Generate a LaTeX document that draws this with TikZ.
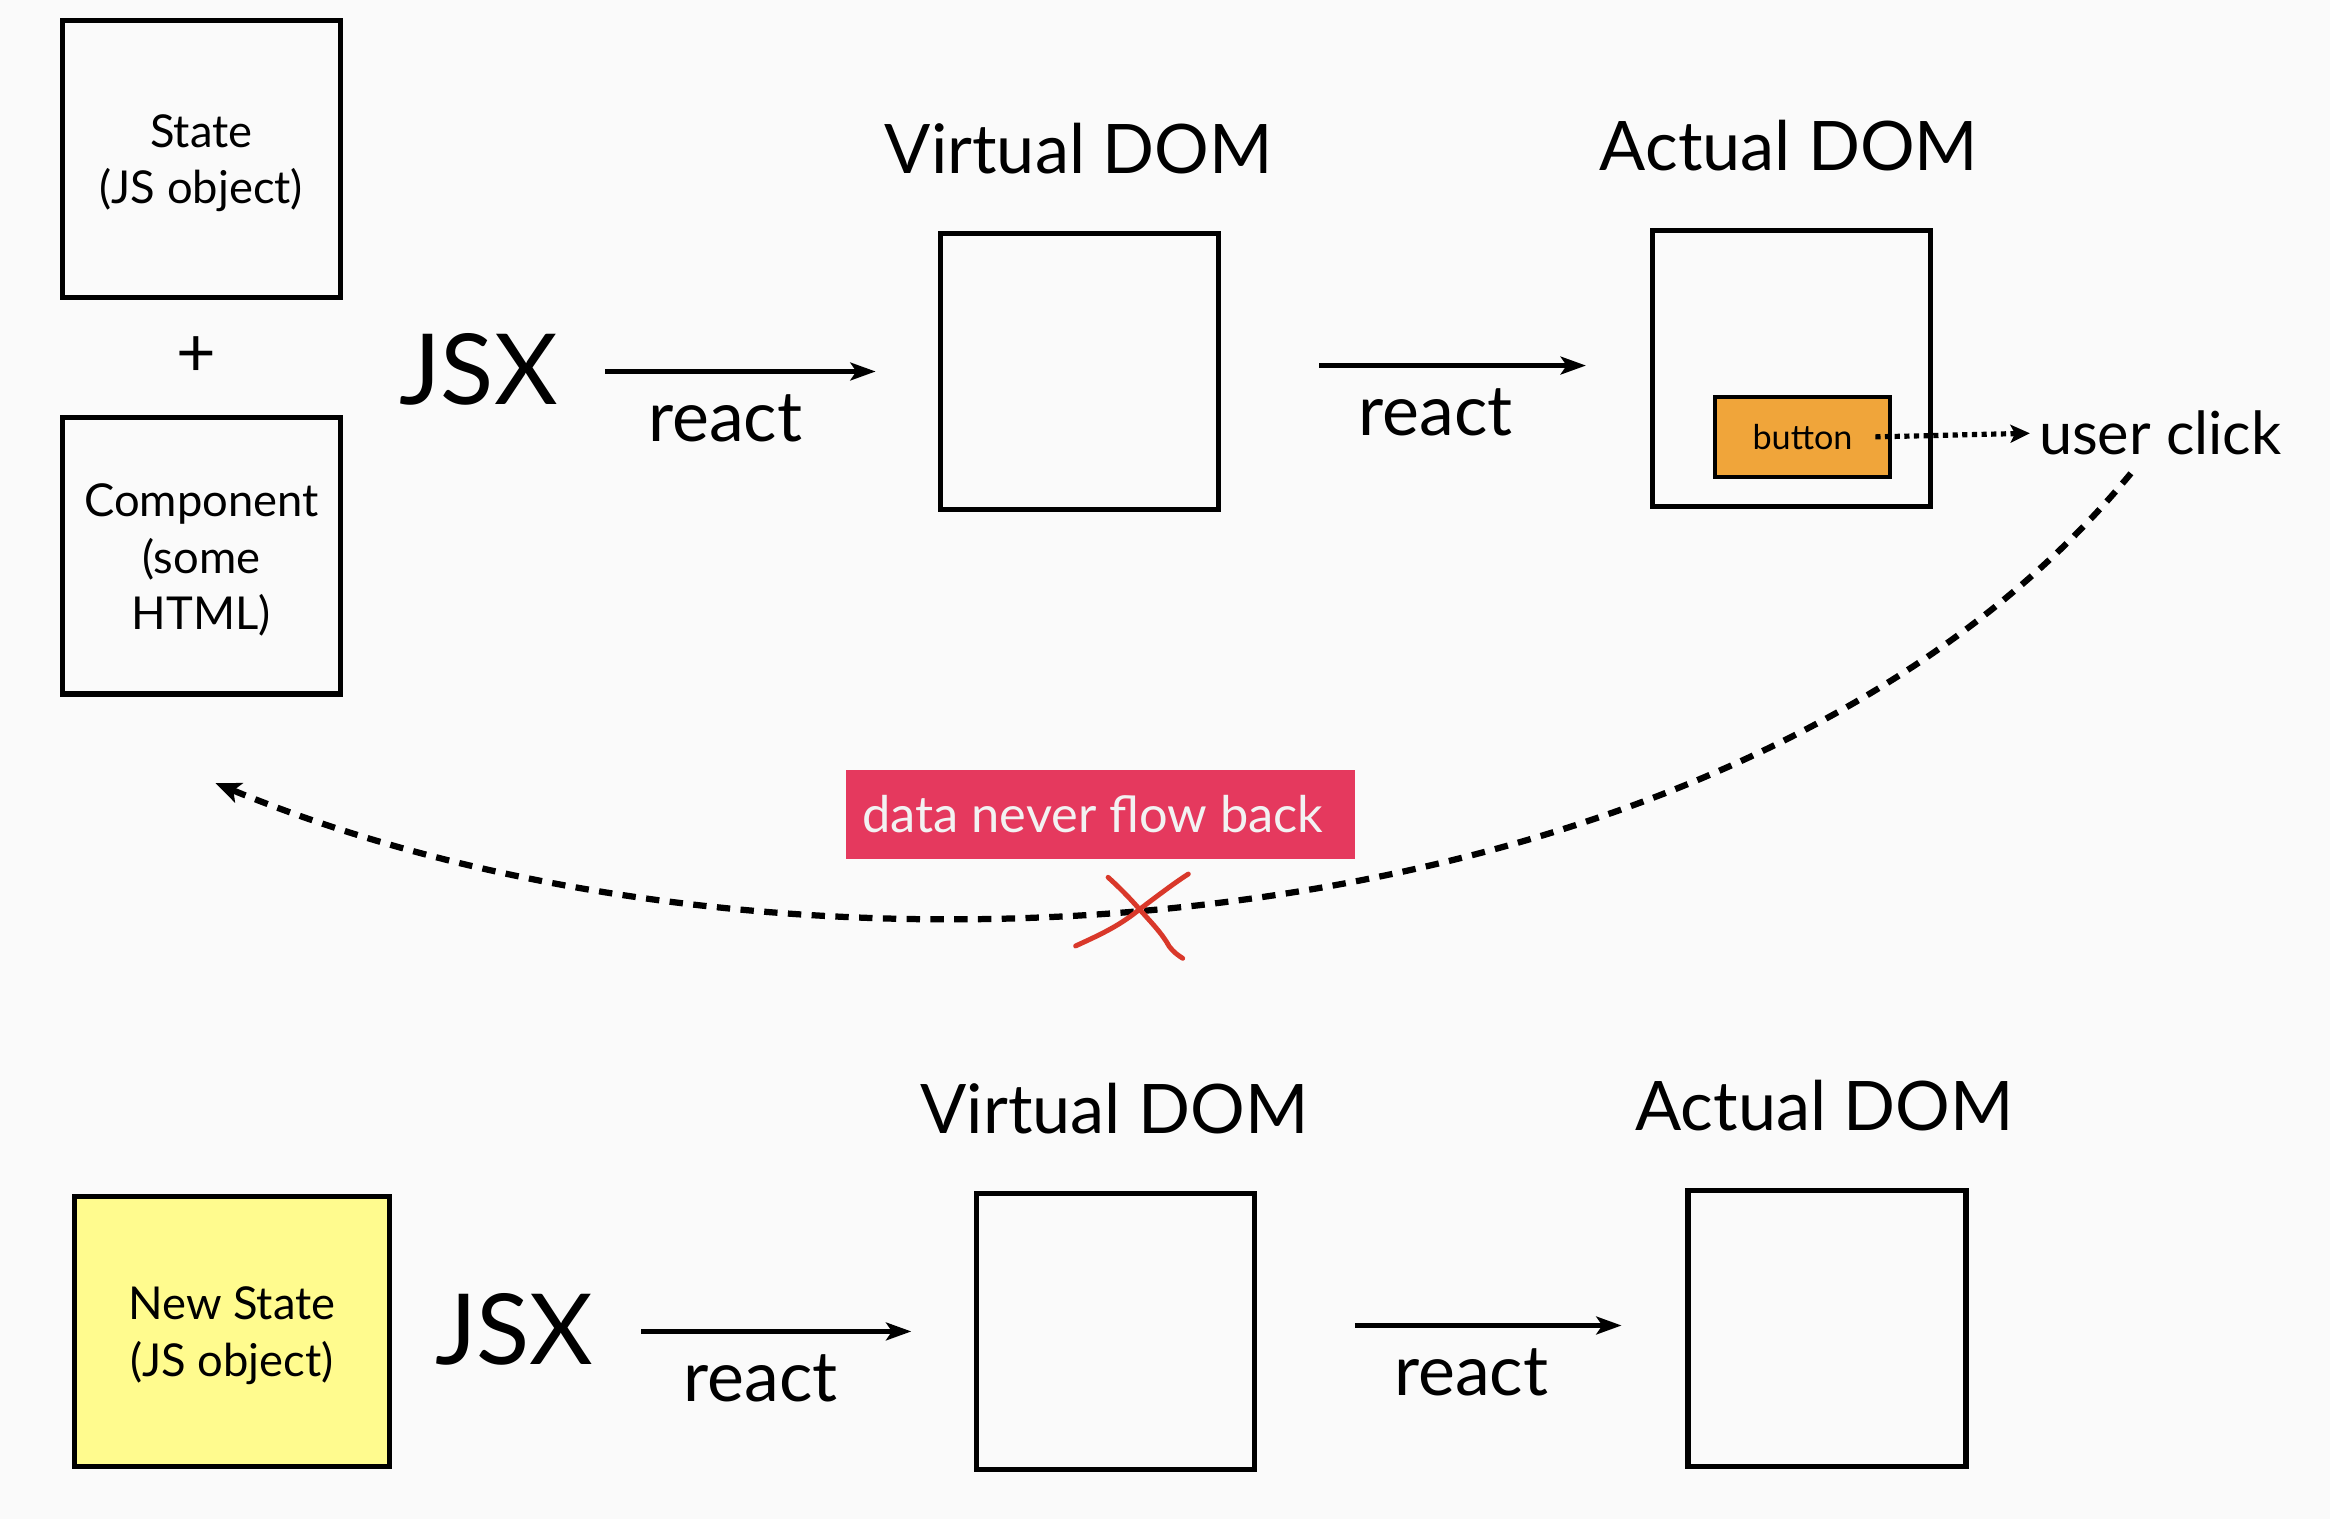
\documentclass[tikz,border=0pt]{standalone}
\usepackage{fontspec}
\setmainfont{Lato}
\usetikzlibrary{arrows.meta}
\definecolor{bgc}{HTML}{FAFAFA}
\definecolor{btnc}{HTML}{F0A53A}
\definecolor{pinkc}{HTML}{E5395E}
\definecolor{redx}{HTML}{D9382A}
\definecolor{yellowc}{HTML}{FFFB8E}
\definecolor{pinktext}{HTML}{F2F2F2}
\newcommand{\lowerstrut}{\rule{0pt}{28pt}}
\tikzset{
  bigbox/.style={draw=black, line width=3.5pt, minimum width=187pt, minimum height=186pt, inner sep=0pt, align=center, font=\fontsize{30.5}{38}\selectfont},
  flowarrow/.style={-{Stealth[length=17pt,width=12pt,inset=4pt]}, line width=3pt},
  title/.style={anchor=base, inner sep=0pt, font=\fontsize{46}{46}\selectfont},
  jsx/.style={anchor=base, inner sep=0pt, font=\fontsize{66}{66}\selectfont},
  reactlbl/.style={anchor=base, inner sep=0pt, font=\fontsize{47}{47}\selectfont},
  backflow/.style={-{Stealth[length=17pt,width=14pt,inset=4pt]}, line width=4.2pt, dash pattern=on 9pt off 7pt},
  crossline/.style={draw=redx, line width=3.3pt, line cap=round, line join=round}
}
\begin{document}
\begin{tikzpicture}[x=1pt,y=-1pt]
\fill[bgc] (0,0) rectangle (1568,1022);
\useasboundingbox (0,0) rectangle (1568,1022);

% ---------- top row ----------
\node[bigbox] (state) at (135.5,107) {\lowerstrut State\\(JS object)};
\node[inner sep=0pt, font=\fontsize{46}{46}\selectfont] (plus) at (132,240) {+};
\node[bigbox] (comp) at (135.5,374) {\lowerstrut Component\\(some\\HTML)};

\node[jsx] (jsxA) at (322,272) {JSX};
\node[bigbox] (vdomA) at (726.5,250) {};
\node[title] (vtitleA) at (726,117) {Virtual DOM};
\node[bigbox] (adomA) at (1205.5,248) {};
\node[title] (atitleA) at (1204,115) {Actual DOM};

\draw[flowarrow, shorten <=32pt, shorten >=42pt] (jsxA.east |- vdomA.west) -- (vdomA.west);
\node[reactlbl] (reactA) at (488,297) {react};
\draw[flowarrow, shorten <=66pt, shorten >=43pt] ([yshift=4pt]vdomA.east) -- ([yshift=2pt]adomA.west);
\node[reactlbl] (reactB) at (966,293) {react};

\node[draw=black, fill=btnc, line width=3pt, minimum width=118pt, minimum height=54pt, inner sep=0pt, font=\fontsize{23}{23}\selectfont] (btn) at (1213,294) {button};
\node[anchor=base west, inner sep=0pt, font=\fontsize{40}{40}\selectfont] (click) at (1372,306) {user click};
\draw[line width=3.5pt, dash pattern=on 3.5pt off 3pt, shorten >=6pt, -{Stealth[length=13pt,width=12pt,inset=3pt]}] ([xshift=49pt]btn.center) -- (click.west);

% ---------- flow back ----------
\coordinate (backend) at (145,527);
\draw[backflow] ([shift={(62,12)}]click.south west) .. controls (1170,640) and (540,690) .. (backend);
\node[fill=pinkc, text=pinktext, minimum width=343pt, minimum height=60pt, inner sep=0pt, font=\fontsize{34}{34}\selectfont] (never) at (740.5,548) {data never flow back\hspace*{10pt}};

\draw[crossline] (723.8,636.6) .. controls (738,630) and (752,624) .. (766.3,612.4) .. controls (780,602) and (792,593) .. (799.7,588.2);
\draw[crossline] (745.7,590.4) .. controls (752,596) and (760,604) .. (766.3,611.3) .. controls (774,620) and (782,628) .. (786.9,637) .. controls (790,641) and (793,643) .. (795.9,644.9);

% ---------- bottom row ----------
\node[bigbox, fill=yellowc, minimum width=212pt, minimum height=182pt] (nstate) at (156,896) {\lowerstrut New State\\(JS object)};
\node[jsx] (jsxB) at (346,918) {JSX};
\node[bigbox] (vdomB) at (750.5,896) {};
\node[title] (vtitleB) at (750,763) {Virtual DOM};
\node[bigbox] (adomB) at (1229.5,894) {};
\node[title] (atitleB) at (1228,761) {Actual DOM};

\draw[flowarrow, shorten <=32pt, shorten >=42pt] (jsxB.east |- vdomB.west) -- (vdomB.west);
\node[reactlbl] (reactC) at (512,943) {react};
\draw[flowarrow, shorten <=66pt, shorten >=43pt] ([yshift=4pt]vdomB.east) -- ([yshift=2pt]adomB.west);
\node[reactlbl] (reactD) at (990,939) {react};
\end{tikzpicture}
\end{document}
